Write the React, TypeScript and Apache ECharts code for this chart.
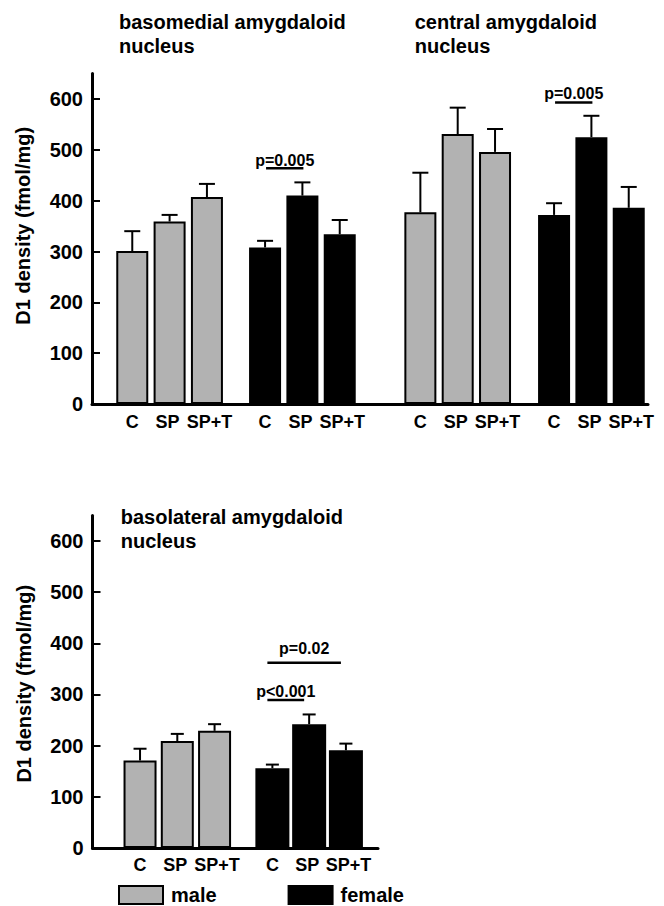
import React, { useEffect, useRef } from 'react';
import * as echarts from 'echarts';

// ---- data ----
const treatments = ['C', 'SP', 'SP+T'];
const yTicks = [0, 100, 200, 300, 400, 500, 600];
const yMax = 650;
const yAxisTitle = 'D1 density (fmol/mg)';
const sexes = ['male', 'female'];

const basomedialMale = [301, 359, 407];
const basomedialMaleSem = [39, 13, 26];
const basomedialFemale = [308, 410, 334];
const basomedialFemaleSem = [13, 26, 28];

const centralMale = [377, 531, 496];
const centralMaleSem = [78, 52, 45];
const centralFemale = [372, 525, 386];
const centralFemaleSem = [23, 42, 41];

const basolateralMale = [171, 209, 229];
const basolateralMaleSem = [23, 14, 13];
const basolateralFemale = [156, 242, 191];
const basolateralFemaleSem = [7, 19, 13];

const panelTitles = [
  'basomedial amygdaloid\nnucleus',
  'central amygdaloid\nnucleus',
  'basolateral amygdaloid\nnucleus',
];

const sigLabels = ['p=0.005', 'p=0.005', 'p<0.001', 'p=0.02'];
const sigFrom = [0, 0, 0, 0];
const sigTo = [1, 1, 1, 2];
const sigLevels = [464, 593, 289, 362];

// ---- styling / layout ----
const FONT = "'Liberation Sans', Arial, Helvetica, sans-serif";
const GREY = '#b2b2b2';
const BLACK = '#000000';

// grid boxes: 0 top main, 1-4 top groups, 5 bottom main, 6-7 bottom groups
const grids = [
  { left: 92, top: 73.6, width: 556, height: 330.4 },
  { left: 113.6, top: 73.6, width: 112, height: 330.4 },
  { left: 246.4, top: 73.6, width: 112, height: 330.4 },
  { left: 401.7, top: 73.6, width: 112, height: 330.4 },
  { left: 535.4, top: 73.6, width: 112, height: 330.4 },
  { left: 92.5, top: 515.4, width: 285.5, height: 332.6 },
  { left: 121.4, top: 515.4, width: 111.8, height: 332.6 },
  { left: 254, top: 515.4, width: 110.3, height: 332.6 },
];

const groups = [
  { grid: 1, name: 'male', color: GREY, values: basomedialMale, sem: basomedialMaleSem, barWidth: 32, cap: 16 },
  { grid: 2, name: 'female', color: BLACK, values: basomedialFemale, sem: basomedialFemaleSem, barWidth: 32, cap: 16 },
  { grid: 3, name: 'male', color: GREY, values: centralMale, sem: centralMaleSem, barWidth: 32, cap: 16 },
  { grid: 4, name: 'female', color: BLACK, values: centralFemale, sem: centralFemaleSem, barWidth: 32, cap: 16 },
  { grid: 6, name: 'male', color: GREY, values: basolateralMale, sem: basolateralMaleSem, barWidth: 33, cap: 13 },
  { grid: 7, name: 'female', color: BLACK, values: basolateralFemale, sem: basolateralFemaleSem, barWidth: 34, cap: 13 },
];

const sigGrid = [2, 4, 7, 7];
const sigShift = [1, 1, -5, -5];
const sigTextGap = [8, 9, 9, 14];

const titlePos = [
  { left: 119, top: 10 },
  { left: 414.7, top: 10 },
  { left: 120.7, top: 504.7 },
];

const labelFont = { fontSize: 18, fontWeight: 'bold', fontFamily: FONT, color: BLACK };

function buildOption(): any {
  const xAxis: any[] = [];
  const yAxis: any[] = [];
  grids.forEach((g, i) => {
    const isMain = i === 0 || i === 5;
    if (isMain) {
      xAxis.push({
        gridIndex: i,
        type: 'value',
        min: 0,
        max: 1,
        axisLine: { show: true, lineStyle: { color: BLACK, width: 3 } },
        axisTick: { show: false },
        axisLabel: { show: false },
        splitLine: { show: false },
      });
      yAxis.push({
        gridIndex: i,
        type: 'value',
        min: 0,
        max: yMax,
        axisLine: { show: true, lineStyle: { color: BLACK, width: 3 } },
        axisTick: {
          show: true,
          inside: true,
          length: 8,
          lineStyle: { color: BLACK, width: 2 },
          customValues: yTicks,
        },
        axisLabel: {
          customValues: yTicks,
          fontSize: 20,
          fontWeight: 'bold',
          fontFamily: FONT,
          color: BLACK,
          margin: 9,
        },
        splitLine: { show: false },
        name: yAxisTitle,
        nameLocation: 'middle',
        nameRotate: 90,
        nameGap: 59,
        nameTextStyle: {
          fontSize: 20,
          fontWeight: 'bold',
          fontFamily: FONT,
          color: BLACK,
          padding: i === 0 ? [0, 0, 0, 26] : [0, 4, 0, 0],
        },
      });
    } else {
      xAxis.push({
        gridIndex: i,
        type: 'category',
        data: treatments,
        axisLine: { show: false },
        axisTick: { show: false },
        axisLabel: {
          ...labelFont,
          margin: i >= 6 ? 8 : 9,
          interval: 0,
          formatter: (v: string) => (v === 'SP' ? '{sp|SP}' : v === 'SP+T' ? '{spt|SP+T}' : v),
          rich: {
            sp: { ...labelFont, padding: [0, 4, 0, 0] },
            spt: { ...labelFont, padding: [0, 0, 0, 5] },
          },
        },
        splitLine: { show: false },
      });
      yAxis.push({ gridIndex: i, type: 'value', min: 0, max: yMax, show: false });
    }
  });

  const series: any[] = [];
  groups.forEach((g) => {
    series.push({
      type: 'bar',
      name: g.name,
      xAxisIndex: g.grid,
      yAxisIndex: g.grid,
      data: g.values,
      barWidth: g.barWidth,
      itemStyle: { color: g.color, borderColor: BLACK, borderWidth: 2 },
      z: 2,
    });
  });
  groups.forEach((g) => {
    const cap = g.cap;
    series.push({
      type: 'custom',
      xAxisIndex: g.grid,
      yAxisIndex: g.grid,
      data: g.values.map((v, k) => [k, v, g.sem[k]]),
      encode: { x: 0, y: 1 },
      z: 3,
      renderItem: (params: any, api: any) => {
        const x = api.value(0);
        const v = api.value(1);
        const e = api.value(2);
        const p0 = api.coord([x, v]);
        const p1 = api.coord([x, v + e]);
        return {
          type: 'group',
          children: [
            { type: 'line', shape: { x1: p0[0], y1: p0[1], x2: p1[0], y2: p1[1] }, style: { stroke: BLACK, lineWidth: 2 } },
            { type: 'line', shape: { x1: p1[0] - cap / 2, y1: p1[1], x2: p1[0] + cap / 2, y2: p1[1] }, style: { stroke: BLACK, lineWidth: 2 } },
          ],
        };
      },
    });
  });
  sigLabels.forEach((label, i) => {
    const shift = sigShift[i];
    const gap = sigTextGap[i];
    series.push({
      type: 'custom',
      xAxisIndex: sigGrid[i],
      yAxisIndex: sigGrid[i],
      data: [[sigFrom[i], sigLevels[i], sigTo[i]]],
      encode: { x: 0, y: 1 },
      z: 4,
      renderItem: (params: any, api: any) => {
        const a = api.coord([api.value(0), api.value(1)]);
        const b = api.coord([api.value(2), api.value(1)]);
        const x1 = a[0] + shift;
        const x2 = b[0] + shift;
        return {
          type: 'group',
          children: [
            { type: 'line', shape: { x1, y1: a[1], x2, y2: a[1] }, style: { stroke: BLACK, lineWidth: 2.5 } },
            {
              type: 'text',
              x: (x1 + x2) / 2,
              y: a[1] - gap,
              style: {
                text: label,
                fontSize: 16,
                fontWeight: 'bold',
                fontFamily: FONT,
                fill: BLACK,
                align: 'center',
                verticalAlign: 'middle',
              },
            },
          ],
        };
      },
    });
  });

  return {
    animation: false,
    backgroundColor: '#ffffff',
    title: panelTitles.map((t, i) => ({
      text: t,
      left: titlePos[i].left,
      top: titlePos[i].top,
      padding: 0,
      textStyle: { fontSize: 20, fontWeight: 'bold', fontFamily: FONT, color: BLACK, lineHeight: 24 },
    })),
    legend: {
      left: 118,
      top: 885,
      padding: 0,
      itemWidth: 44,
      itemHeight: 18,
      itemGap: 71,
      icon: 'rect',
      selectedMode: false,
      textStyle: { fontSize: 20, fontWeight: 'bold', fontFamily: FONT, color: BLACK, lineHeight: 18, padding: [0, 0, 0, 3] },
      data: sexes.map((s) => ({
        name: s,
        itemStyle: { color: s === 'male' ? GREY : BLACK, borderColor: BLACK, borderWidth: 2 },
      })),
    },
    grid: grids.map((g) => ({ ...g, containLabel: false, outerBoundsMode: 'none' })),
    xAxis,
    yAxis,
    series,
  };
}

export default function App() {
  const ref = useRef<HTMLDivElement>(null);
  useEffect(() => {
    document.body.style.margin = '0';
    const chart = echarts.init(ref.current as HTMLDivElement, null, { renderer: 'svg' });
    chart.setOption(buildOption());
    return () => chart.dispose();
  }, []);
  return <div ref={ref} style={{ width: 664, height: 906 }} />;
}
